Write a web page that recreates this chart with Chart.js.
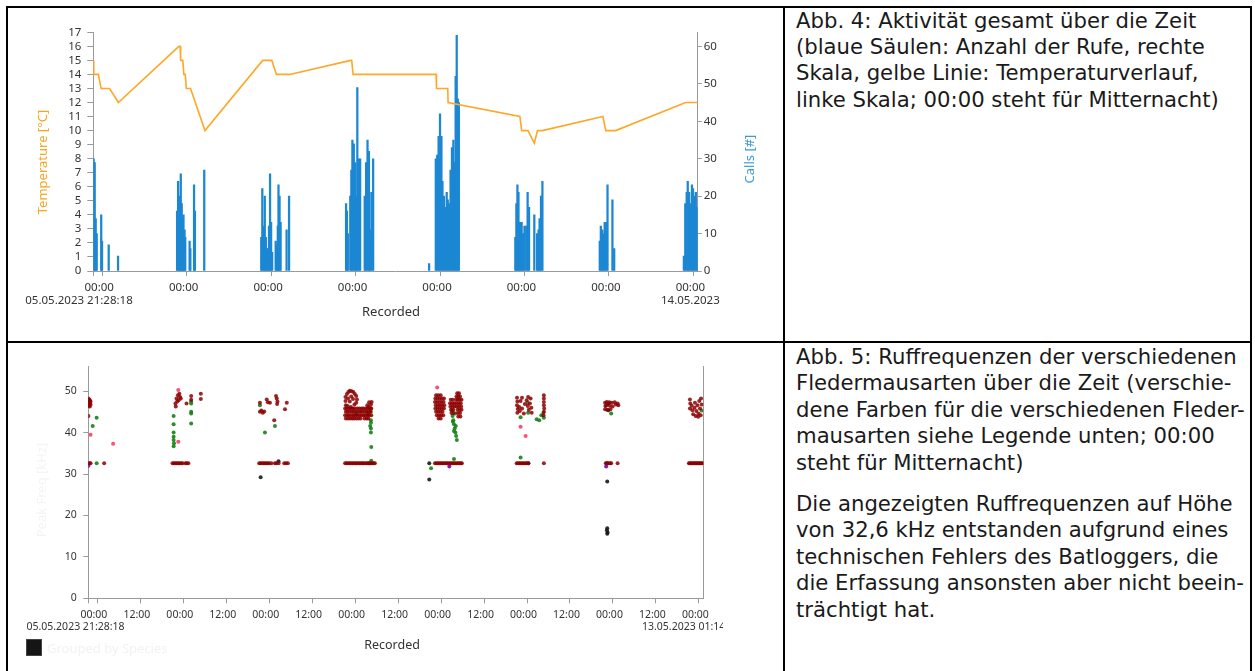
<!DOCTYPE html>
<html>
<head>
<meta charset="utf-8">
<script src="https://cdn.jsdelivr.net/npm/chart.js@4.4.1/dist/chart.umd.min.js"></script>
<style>
  body { margin: 0; background: #fff; width: 1255px; height: 671px; overflow: hidden; position: relative; }
  .rule { position: absolute; background: #000; }
  .txt { position: absolute; left: 796px; font-family: "DejaVu Sans"; font-size: 21.2px; line-height: 26.4px; color: #1a1a1a; white-space: nowrap; }
  canvas { position: absolute; }
</style>
</head>
<body>
<div class="rule" style="left:6px;top:6px;width:1246px;height:2px"></div>
<div class="rule" style="left:6px;top:6px;width:2px;height:665px"></div>
<div class="rule" style="left:783px;top:6px;width:2px;height:665px"></div>
<div class="rule" style="left:1250px;top:6px;width:2px;height:665px"></div>
<div class="rule" style="left:6px;top:341px;width:1246px;height:2px"></div>

<canvas id="activityChart" width="773" height="331" style="left:9px;top:9px"></canvas>
<canvas id="freqChart" width="773" height="327" style="left:9px;top:344px"></canvas>

<div class="txt" style="top:7.5px">Abb. 4: Aktivität gesamt über die Zeit<br>(blaue Säulen: Anzahl der Rufe, rechte<br>Skala, gelbe Linie: Temperaturverlauf,<br>linke Skala; 00:00 steht für Mitternacht)</div>
<div class="txt" style="top:344px">Abb. 5: Ruffrequenzen der verschiedenen<br>Fledermausarten über die Zeit (verschie-<br>dene Farben für die verschiedenen Fleder-<br>mausarten siehe Legende unten; 00:00<br>steht für Mitternacht)</div>
<div class="txt" style="top:491px">Die angezeigten Ruffrequenzen auf Höhe<br>von 32,6 kHz entstanden aufgrund eines<br>technischen Fehlers des Batloggers, die<br>die Erfassung ansonsten aber nicht beein-<br>trächtigt hat.</div>

<script>
"use strict";

// time axis: hours since 06.05.2023 00:00
const startHour = -2.53;   // 05.05.2023 21:28:18
const endHour = 169.23;    // 13.05.2023 01:14
const midnightTicks = [0, 24, 48, 72, 96, 120, 144, 168];
const halfDayTicks = [0, 12, 24, 36, 48, 60, 72, 84, 96, 108, 120, 132, 144, 156, 168];

// Abb. 4 - temperature (left scale)
const tempHours = [-2.53, -2.4, -1.1, -0.3, 2.1, 4.6, 21.8, 22.15, 22.3, 22.9, 23.2, 23.6, 23.9, 25.1, 29.2,
  45.6, 48.2, 49.5, 53.3, 70.6, 70.9, 71.3, 94.9, 95.0, 98.2, 98.3, 118.7, 119.2, 121.0, 122.8, 123.7,
  125.1, 142.3, 143.1, 145.9, 165.8, 169.23];
const tempValues = [15, 14, 14, 13, 13, 12, 16, 16, 15, 15, 14, 14, 13, 13, 10,
  15, 15, 14, 14, 15, 15, 14, 14, 13, 13, 12, 11, 10, 10, 9.1, 10,
  10, 11, 10, 10, 12, 12];

// Abb. 4 - calls per interval (right scale)
const callHours = [
  -2.42, -2.13, -1.85, -1.56, -0.28, -0.05, 1.85, 4.5,
  21.28, 21.57, 21.85, 22.1, 22.33, 22.6, 22.9, 23.1, 23.4, 23.6, 24.84, 25.05, 26.1, 26.35, 29.0,
  45.2, 45.5, 45.85, 46.2, 46.5, 46.7, 47.0, 47.4, 47.7, 48.0, 48.3, 49.3, 49.6, 49.9, 50.1, 50.4, 50.7, 52.4, 53.1,
  69.3, 69.55, 69.8, 70.5, 70.8, 71.1, 71.5, 71.9, 72.2, 72.5, 72.9, 73.3, 74.6, 75.0, 75.4, 75.8, 76.2, 76.5, 77.0,
  92.9, 94.8, 95.2, 95.6, 96.0, 96.4, 96.7, 97.1, 97.5, 97.9, 98.2, 98.6, 99.0, 99.4, 99.8, 100.1, 100.45, 100.75, 101.05, 101.35,
  117.4, 117.7, 118.0, 118.3, 118.6, 118.9, 119.2, 119.6, 120.0, 120.5, 120.9, 121.3, 122.8, 123.6, 124.0, 124.3, 124.7, 125.1,
  141.4, 141.7, 142.1, 142.4, 142.8, 143.2, 143.6, 145.0, 145.5,
  165.3, 165.7, 166.1, 166.4, 166.8, 167.2, 167.6, 167.9, 168.3, 168.7, 169.1];
const callCounts = [
  30, 29, 14, 10, 15, 8, 7, 4,
  16, 24, 12, 20, 26, 18, 14, 15, 11, 9, 8, 6, 23, 16, 27,
  9, 22, 12, 20, 9, 6, 6, 12, 26, 13, 5, 8, 7, 12, 23, 20, 13, 11, 20,
  18, 16, 10, 20, 27, 35, 34, 29, 20, 49, 30, 30, 20, 29, 35, 32, 11, 21, 30,
  2, 30, 31, 36, 42, 36, 24, 20, 17, 21, 19, 18, 27, 33, 35, 29, 52, 63, 46, 45,
  9, 18, 23, 21, 13, 13, 13, 10, 12, 12, 21, 17, 15, 10, 11, 14, 20, 24,
  8, 12, 11, 10, 13, 13, 23, 19, 6,
  4, 18, 21, 24, 21, 18, 23, 22, 20, 21, 17];

// Abb. 5 - peak frequency [kHz] per species group, [hour, kHz]
const darkRedCalls = [
  [-2.5, 48.2], [-2.5, 47.6], [-2.5, 47.0], [-2.5, 46.4], [-2.3, 48.0], [-2.3, 47.3], [-2.3, 46.7], [-2.1, 47.8],
  [-2.1, 47.1], [-2.1, 46.3], [-1.9, 47.5], [-1.9, 46.8], [-2.5, 44.0],
  [21.8, 47.0], [21.9, 46.3], [22.1, 48.2], [22.3, 47.5], [22.5, 49.0], [22.7, 47.8], [22.9, 49.4], [23.1, 48.6],
  [23.3, 48.2], [24.9, 47.0], [26.2, 48.8], [26.2, 47.9], [28.9, 49.4], [28.9, 48.1],
  [45.4, 47.2], [45.4, 45.0], [45.8, 45.3], [46.2, 44.8], [46.6, 45.1], [47.3, 48.0], [47.6, 47.3], [48.2, 47.2],
  [49.4, 43.0], [49.9, 48.8], [50.1, 48.2], [50.3, 47.5], [50.2, 46.9], [52.4, 45.6], [52.9, 47.2],
  [69.3, 48.6], [69.3, 47.6], [69.4, 46.6], [69.7, 49.3], [70.1, 49.8], [70.5, 50.1], [71.0, 50.0], [71.5, 49.8],
  [71.9, 49.3], [72.3, 48.8], [72.5, 48.0], [72.3, 47.2], [71.8, 46.8], [70.5, 47.5], [70.0, 48.2], [70.9, 48.7],
  [71.4, 48.1], [69.9, 46.4], [70.8, 46.2],
  [69.2, 45.8], [69.7, 45.8], [70.3, 45.8], [70.8, 45.8], [71.4, 45.8], [71.9, 45.8], [72.6, 45.8], [73.2, 45.8],
  [73.8, 45.8], [74.3, 45.8], [74.9, 45.8], [75.4, 45.8], [76.0, 45.8], [76.5, 45.8],
  [69.4, 45.0], [69.9, 45.0], [70.5, 45.0], [71.1, 45.0], [71.6, 45.0], [72.2, 45.0], [72.8, 45.0], [73.4, 45.0],
  [73.9, 45.0], [74.5, 45.0], [75.1, 45.0], [75.6, 45.0], [76.2, 45.0],
  [69.2, 44.2], [69.8, 44.2], [70.3, 44.2], [70.9, 44.2], [71.5, 44.2], [72.0, 44.2], [72.6, 44.2], [73.2, 44.2],
  [73.7, 44.2], [74.3, 44.2], [74.8, 44.2], [75.4, 44.2], [75.9, 44.2], [76.5, 44.2],
  [69.4, 43.4], [70.0, 43.4], [70.6, 43.4], [71.2, 43.4], [71.7, 43.4], [72.3, 43.4], [72.9, 43.4], [73.5, 43.4],
  [74.6, 43.4], [75.2, 43.4], [75.7, 43.4],
  [75.4, 46.6], [75.9, 47.3], [76.4, 46.8], [76.6, 47.4], [75.8, 46.2], [76.3, 45.9],
  [94.6, 49.0], [95.2, 49.0], [95.9, 49.0],
  [94.4, 48.2], [95.0, 48.2], [95.6, 48.2], [96.2, 48.2], [96.8, 48.2],
  [94.3, 47.4], [94.9, 47.4], [95.5, 47.4], [96.1, 47.4], [96.7, 47.4],
  [94.5, 46.6], [95.1, 46.6], [95.7, 46.6], [96.3, 46.6], [96.9, 46.6],
  [94.4, 45.8], [95.0, 45.8], [95.6, 45.8], [96.2, 45.8], [96.8, 45.8],
  [94.6, 45.0], [95.2, 45.0], [95.8, 45.0], [96.4, 45.0],
  [94.8, 44.2], [95.4, 44.2], [96.0, 44.2], [96.6, 44.2], [95.3, 43.4], [95.9, 43.4],
  [100.5, 49.5], [101.0, 49.5], [100.3, 48.7], [100.8, 48.7], [101.3, 48.7],
  [98.7, 47.9], [99.3, 47.9], [100.2, 47.9], [100.7, 47.9], [101.2, 47.9], [101.7, 47.9],
  [98.5, 47.1], [99.1, 47.1], [99.7, 47.1], [100.3, 47.1], [100.9, 47.1], [101.5, 47.1],
  [98.6, 46.3], [99.2, 46.3], [99.8, 46.3], [100.4, 46.3], [101.0, 46.3], [101.6, 46.3],
  [98.8, 45.5], [99.4, 45.5], [100.6, 45.5], [101.2, 45.5], [101.7, 45.5],
  [98.9, 44.7], [99.5, 44.7], [100.7, 44.7], [101.3, 44.7], [100.8, 43.9], [101.4, 43.9],
  [117.2, 48.4], [117.3, 47.5], [117.2, 46.6], [117.4, 45.7], [117.3, 44.8], [117.8, 46.2], [118.0, 45.2],
  [118.2, 47.6], [118.6, 48.4], [118.6, 45.8], [119.1, 44.6], [119.4, 46.9], [119.9, 47.8], [120.3, 48.6],
  [120.2, 46.4], [120.5, 45.5], [120.8, 47.0], [121.0, 48.2], [121.2, 46.0], [121.3, 44.8],
  [124.7, 49.0], [124.7, 48.2], [124.7, 47.4], [124.7, 46.6], [124.8, 45.8], [124.7, 45.0], [124.6, 44.2],
  [141.8, 47.2], [141.9, 46.4], [141.8, 45.6], [142.3, 47.4], [142.4, 45.5], [143.0, 47.3], [143.1, 46.5],
  [143.3, 45.6], [143.7, 47.2], [143.9, 46.3], [144.5, 47.3], [144.8, 46.8], [145.3, 47.0], [145.5, 46.6], [142.2, 46.6],
  [165.5, 48.0], [165.6, 47.0], [165.5, 45.8], [166.0, 46.5], [166.2, 45.4], [166.4, 44.4], [166.8, 46.0],
  [167.1, 44.0], [167.3, 45.2], [167.6, 46.6], [167.9, 44.6], [168.1, 47.6], [168.3, 45.8], [168.6, 48.2],
  [168.8, 46.8], [168.5, 44.2], [166.9, 47.2], [167.8, 43.8]];

// the 32.6 kHz artefact of the batlogger (dark red group)
const artefactFreq = 32.6;
const artefactHours = [
  -2.5, -2.2, -1.9, 1.9,
  21.0, 21.4, 21.8, 22.2, 22.6, 23.0, 23.4, 23.8, 24.6, 25.0, 25.4,
  45.2, 45.6, 46.0, 46.4, 46.8, 47.2, 47.6, 48.0, 48.6, 49.6, 50.0, 50.6, 52.2, 52.7, 53.2,
  69.2, 69.6, 70.0, 70.4, 70.8, 71.2, 71.6, 72.0, 72.4, 72.8, 73.2, 73.6, 74.0, 74.3, 74.8, 75.2, 75.6, 76.0, 76.4, 76.8, 77.2, 77.5,
  94.3, 94.7, 95.1, 95.5, 95.9, 96.3, 96.7, 97.1, 97.5, 97.9, 98.3, 98.7, 99.1, 99.5, 99.9, 100.3, 100.7, 101.1, 101.5, 101.8,
  117.1, 117.5, 117.9, 118.3, 118.7, 119.1, 119.5, 119.9, 120.3, 124.7,
  142.0, 142.4, 142.8, 143.2, 143.5, 145.3,
  165.2, 165.5, 165.8, 166.1, 166.4, 166.7, 167.0, 167.3, 167.6, 167.9, 168.2, 168.5, 168.8, 169.1];

const greenCalls = [
  [-0.2, 43.6], [-1.3, 41.6], [-0.2, 32.6],
  [21.3, 44.0], [21.3, 42.0], [21.3, 40.0], [21.3, 39.0], [21.3, 38.2], [21.4, 37.4], [21.3, 36.7],
  [26.2, 47.5], [26.2, 47.0], [26.2, 45.0], [26.2, 44.6], [26.2, 42.2],
  [45.4, 46.6], [46.8, 40.0], [49.6, 41.6],
  [72.4, 44.5], [75.6, 44.5], [76.4, 45.0], [76.4, 43.0], [76.4, 42.4], [76.4, 41.0], [76.2, 41.6], [76.4, 40.0],
  [76.5, 36.5], [76.5, 33.2], [75.8, 32.6], [76.4, 32.6],
  [93.2, 31.4], [99.0, 45.4], [99.2, 44.0], [99.4, 43.0], [99.6, 42.0], [99.8, 41.0], [100.0, 40.0], [100.2, 39.2],
  [100.4, 38.2], [99.6, 40.4], [99.9, 44.6], [99.3, 42.6], [100.1, 41.6], [99.6, 33.6],
  [118.2, 43.7], [118.2, 34.0], [120.2, 47.2], [122.7, 43.2], [123.4, 43.0], [124.0, 44.2], [124.7, 43.6],
  [124.6, 44.8], [120.3, 44.8],
  [143.5, 44.6], [168.8, 45.3]];

const pinkCalls = [[-1.9, 39.5], [4.4, 37.3], [22.6, 50.3], [22.6, 37.8], [94.9, 50.9], [119.6, 39.2], [118.2, 41.4]];

const blackCalls = [
  [45.6, 29.2], [50.6, 33.1], [92.7, 32.6], [92.7, 28.7], [120.4, 32.6], [142.3, 32.6], [142.4, 28.2],
  [142.4, 16.9], [142.3, 16.4], [142.5, 15.9], [142.4, 15.6], [142.7, 47.0], [142.7, 45.4]];

const purpleCalls = [[-2.5, 32.0], [98.3, 31.8], [142.1, 31.8]];


Chart.defaults.font.family = "Noto Sans";
Chart.defaults.color = "#333";

const axisGray = "#9a9a9a";

// plain text and legend marks drawn on top of each chart
const extraText = {
  id: "extraText",
  afterDraw(chart, args, opts) {
    const ctx = chart.ctx;
    for (const t of opts.items) {
      ctx.save();
      if (t.clipRight) {
        ctx.beginPath();
        ctx.rect(0, 0, t.clipRight, chart.height);
        ctx.clip();
      }
      if (t.box) {
        ctx.fillStyle = t.color;
        ctx.fillRect(t.x, t.y, t.box[0], t.box[1]);
        ctx.strokeStyle = "#444";
        ctx.strokeRect(t.x + 0.5, t.y + 0.5, t.box[0] - 1, t.box[1] - 1);
      } else {
        ctx.font = t.font;
        ctx.fillStyle = t.color;
        ctx.textAlign = t.align || "center";
        ctx.textBaseline = "middle";
        ctx.translate(t.x, t.y);
        if (t.rot) ctx.rotate(t.rot);
        ctx.fillText(t.text, 0, 0);
      }
      ctx.restore();
    }
  }
};


function activity_chart_init() {
  const tempData = tempHours.map((h, i) => ({x: h, y: tempValues[i]}));
  const callData = callHours.map((h, i) => ({x: h, y: callCounts[i]}));

  new Chart("activityChart", {
    type: "bar",
    data: {
      datasets: [
        {
          type: "line",
          label: "Temperature",
          data: tempData,
          borderColor: "#ffa726",
          borderWidth: 1.6,
          pointRadius: 0,
          tension: 0,
          yAxisID: "yT",
          order: 0
        },
        {
          type: "bar",
          label: "Calls",
          data: callData,
          backgroundColor: "#1c87d3",
          barThickness: 1.6,
          yAxisID: "yC",
          order: 1
        }
      ]
    },
    options: {
      responsive: false,
      animation: false,
      layout: {padding: {top: 23.3}},
      plugins: {
        legend: {display: false},
        tooltip: {enabled: false},
        extraText: {
          items: [
            {text: "Temperature [°C]", x: 34.5, y: 153, rot: -Math.PI / 2, font: "13px 'Noto Sans'", color: "#f5a623"},
            {text: "Calls [#]", x: 741.5, y: 150, rot: -Math.PI / 2, font: "13px 'Noto Sans'", color: "#3d9ad8"},
            {text: "Recorded", x: 382, y: 303, font: "13px 'Noto Sans'", color: "#333"},
            {text: "05.05.2023 21:28:18", x: 70, y: 292, font: "11.5px 'Noto Sans'", color: "#333"}
          ]
        }
      },
      scales: {
        x: {
          type: "linear",
          min: startHour,
          max: endHour,
          offset: false,
          afterBuildTicks: s => { s.ticks = [startHour].concat(midnightTicks).map(v => ({value: v})); },
          afterFit: s => { s.height = 69; },
          grid: {drawOnChartArea: false, tickLength: 5, color: axisGray, offset: false},
          border: {color: axisGray},
          ticks: {
            autoSkip: false, maxRotation: 0, padding: 5.5, labelOffset: -3,
            font: {size: 11.5, lineHeight: 1.1}, color: "#333",
            callback: v => v === startHour ? "" : (v === 168 ? ["00:00", "14.05.2023"] : "00:00")
          }
        },
        yT: {
          position: "left",
          min: 0,
          max: 17,
          afterFit: s => { s.width = 84.3; },
          grid: {drawOnChartArea: false, tickLength: 6, color: axisGray},
          border: {color: axisGray},
          ticks: {stepSize: 1, autoSkip: false, padding: 6, font: {size: 11.5}, color: "#333"}
        },
        yC: {
          position: "right",
          min: 0,
          max: 63.8,
          afterFit: s => { s.width = 84.3; },
          grid: {drawOnChartArea: false, tickLength: 4, color: axisGray},
          border: {color: axisGray},
          ticks: {stepSize: 10, includeBounds: false, autoSkip: false, padding: 2, font: {size: 11.5}, color: "#333"}
        }
      }
    },
    plugins: [extraText]
  });
}


function freq_chart_init() {
  const toPoints = arr => arr.map(p => ({x: p[0], y: p[1]}));
  const artefactPts = artefactHours.map(h => ({x: h, y: artefactFreq}));
  const dot = (label, data, color) => ({label, data, backgroundColor: color, borderWidth: 0, pointRadius: 2});

  new Chart("freqChart", {
    type: "scatter",
    data: {
      datasets: [
        dot("group 1", toPoints(darkRedCalls).concat(artefactPts), "rgba(140,0,0,0.85)"),
        dot("group 2", toPoints(greenCalls), "rgba(24,128,24,0.9)"),
        dot("group 3", toPoints(pinkCalls), "rgba(255,60,100,0.9)"),
        dot("group 4", toPoints(blackCalls), "rgba(25,25,25,0.9)"),
        dot("group 5", toPoints(purpleCalls), "rgba(128,0,170,0.9)")
      ]
    },
    options: {
      responsive: false,
      animation: false,
      layout: {padding: {top: 22.7}},
      plugins: {
        legend: {display: false},
        tooltip: {enabled: false},
        extraText: {
          items: [
            {text: "Peak Freq [kHz]", x: 33, y: 146, rot: -Math.PI / 2, font: "13px 'Noto Sans'", color: "#f4f4f4"},
            {text: "Recorded", x: 383, y: 301, font: "12.5px 'Noto Sans'", color: "#333"},
            {text: "05.05.2023 21:28:18", x: 66.5, y: 283.5, font: "10.5px 'Noto Sans'", color: "#333"},
            {text: "13.05.2023 01:14:05", x: 633, y: 283.5, align: "left", clipRight: 714, font: "10.5px 'Noto Sans'", color: "#333"},
            {box: [16, 17], x: 17, y: 295, color: "#151515"},
            {text: "Grouped by Species", x: 38, y: 305, align: "left", font: "13px 'Noto Sans'", color: "#f2f2f2"}
          ]
        }
      },
      scales: {
        x: {
          type: "linear",
          min: startHour,
          max: endHour,
          afterBuildTicks: s => { s.ticks = [startHour].concat(halfDayTicks).map(v => ({value: v})); },
          afterFit: s => { s.height = 72.7; },
          grid: {drawOnChartArea: false, tickLength: 5, color: axisGray},
          border: {color: axisGray},
          ticks: {
            autoSkip: false, maxRotation: 0, padding: 5.5, labelOffset: -3.5,
            font: {size: 10.5}, color: "#333",
            callback: v => v === startHour ? "" : (v % 24 === 0 ? "00:00" : "12:00")
          }
        },
        y: {
          position: "left",
          min: 0,
          max: 55.9,
          afterFit: s => { s.width = 79.3; },
          grid: {drawOnChartArea: false, tickLength: 5, color: axisGray},
          border: {color: axisGray},
          ticks: {stepSize: 10, includeBounds: false, padding: 6.5, font: {size: 10.5}, color: "#333"}
        },
        yR: {
          position: "right",
          min: 0,
          max: 55.9,
          afterFit: s => { s.width = 78.7; },
          grid: {drawOnChartArea: false, drawTicks: false},
          border: {color: axisGray},
          ticks: {display: false}
        }
      }
    },
    plugins: [extraText]
  });
}


activity_chart_init();
freq_chart_init();
</script>
</body>
</html>
